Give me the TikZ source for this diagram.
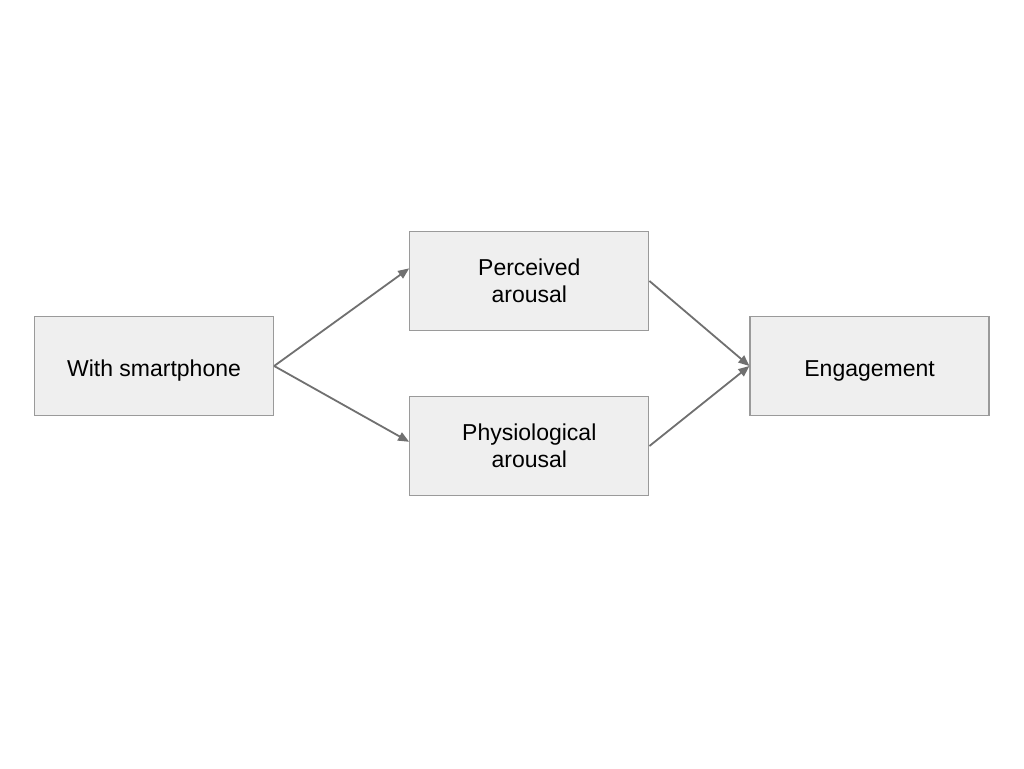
\documentclass[tikz,border=0pt]{standalone}
\usepackage{fontspec}
\setmainfont{Liberation Sans}
\usetikzlibrary{positioning,arrows.meta}

\definecolor{boxfill}{HTML}{EFEFEF}
\definecolor{boxline}{HTML}{9A9A9A}
\definecolor{arrowgray}{HTML}{707070}

\begin{document}
\begin{tikzpicture}[node distance=135pt,
  every node/.style={font=\fontsize{23}{26.6}\selectfont},
  var/.style={rectangle,draw=boxline,line width=1.3pt,fill=boxfill,
    minimum width=239pt,minimum height=99pt,align=center,inner sep=0pt},
  oneline/.style={text height=22pt,text depth=2pt},
  link/.style={draw=arrowgray,line width=1.8pt,-{Triangle[length=11pt,width=9pt]}}]
  \useasboundingbox[fill=white] (-154pt,366pt) rectangle (870pt,-402pt);
  \node[var,oneline] (phone) {With smartphone};
  \node[var,right=of phone,yshift=85pt] (perceived) {Perceived\\arousal};
  \node[var,right=of phone,yshift=-80pt] (physio) {Physiological\\arousal};
  \node[var,oneline,right=100pt of perceived,yshift=-85pt] (engage) {Engagement};
  \draw[link] (phone.east) -- (perceived.174);
  \draw[link] (phone.east) -- (physio.178);
  \draw[link] (perceived.east) -- (engage.west);
  \draw[link] (physio.east) -- (engage.west);
\end{tikzpicture}
\end{document}
